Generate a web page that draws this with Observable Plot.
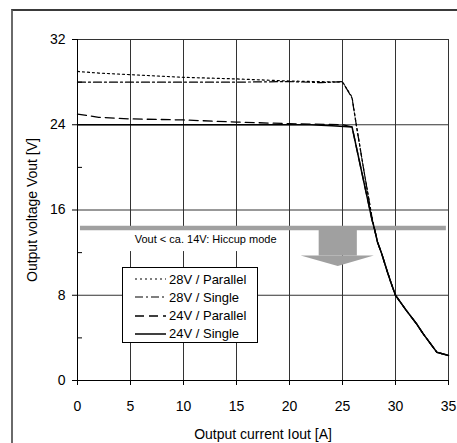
<!DOCTYPE html>
<html><head><meta charset="utf-8">
<script src="https://cdn.jsdelivr.net/npm/d3@7"></script>
<script src="https://cdn.jsdelivr.net/npm/@observablehq/plot@0.6"></script>
<style>
body{margin:0;background:#fff;}
#wrap{position:relative;width:457px;height:443px;overflow:hidden;font-family:"Liberation Sans",Arial,sans-serif;}
#frame{position:absolute;left:11px;top:9px;width:470px;height:470px;border-left:2px solid #6a6a6a;border-top:2px solid #3a3a3a;box-sizing:border-box;}
#legend{position:absolute;left:122px;top:267px;width:136px;height:76px;border:1px solid #000;background:#fff;box-sizing:border-box;font-size:13px;color:#000;}
#legend .row{position:absolute;left:12px;height:18px;display:flex;align-items:center;}
#legend svg{display:block;margin-right:3px;}
</style></head>
<body>
<div id="wrap"><div id="frame"></div><div id="chart"></div><div id="legend"></div></div>
<script>
// ---- data ----
const xTicks = [0, 5, 10, 15, 20, 25, 30, 35];
const yTicks = [0, 8, 16, 24, 32];
const yMinorTicks = [4, 12, 20, 28];
const seriesNames = ["28V / Parallel", "28V / Single", "24V / Parallel", "24V / Single"];

const current28VParallel = [0, 2, 5, 10, 15, 20, 25, 25.9, 26.3, 27, 27.8, 28, 28.3, 28.7, 29.2, 29.6, 30, 31, 32, 32.6, 33.9, 35];
const voltage28VParallel = [29.0, 28.85, 28.7, 28.45, 28.3, 28.1, 28.0, 26.6, 24.0, 19.8, 15.2, 14.3, 13.0, 11.9, 10.3, 9.1, 8.0, 6.6, 5.3, 4.4, 2.65, 2.35];

const current28VSingle = [0, 5, 10, 15, 20, 23, 25, 25.9, 26.3, 27, 27.8, 28, 28.3, 28.7, 29.2, 29.6, 30, 31, 32, 32.6, 33.9, 35];
const voltage28VSingle = [28.0, 28.0, 28.0, 28.0, 28.05, 27.95, 28.05, 26.5, 24.0, 19.8, 15.2, 14.3, 13.0, 11.9, 10.3, 9.1, 8.0, 6.6, 5.3, 4.4, 2.65, 2.35];

const current24VParallel = [0, 2, 5, 10, 15, 20, 25, 25.9, 27, 27.8, 28, 28.3, 28.7, 29.2, 29.6, 30, 31, 32, 32.6, 33.9, 35];
const voltage24VParallel = [25.0, 24.7, 24.55, 24.45, 24.25, 24.1, 24.0, 23.8, 18.7, 15.0, 14.3, 13.0, 11.9, 10.3, 9.1, 8.0, 6.6, 5.3, 4.4, 2.65, 2.35];

const current24VSingle = [0, 5, 10, 15, 20, 22, 24, 25.9, 27, 27.8, 28, 28.3, 28.7, 29.2, 29.6, 30, 31, 32, 32.6, 33.9, 35];
const voltage24VSingle = [24.0, 24.0, 24.0, 24.0, 24.0, 24.0, 23.9, 23.8, 18.7, 15.0, 14.3, 13.0, 11.9, 10.3, 9.1, 8.0, 6.6, 5.3, 4.4, 2.65, 2.35];

// hiccup annotation (data units)
const hiccupLevel = [14.3];
const hiccupText = ["Vout < ca. 14V: Hiccup mode"];

// ---- build ----
const seriesData = [
  [current28VParallel, voltage28VParallel],
  [current28VSingle, voltage28VSingle],
  [current24VParallel, voltage24VParallel],
  [current24VSingle, voltage24VSingle]
].map(([cs, vs], i) => cs.map((c, j) => ({series: seriesNames[i], current: c, voltage: vs[j]})));

const dashes = ["2,3", "8,3,2,3", "9,5", null];
const widths = [1.2, 1.2, 1.3, 1.5];

const gridColor = "#333";
const bandColor = "#a0a0a0";

const lineMarks = seriesData.map((d, i) => Plot.line(d, {
  x: "current", y: "voltage", stroke: "#000", strokeWidth: widths[i],
  strokeDasharray: dashes[i] || undefined
}));

const chart = Plot.plot({
  width: 457, height: 443,
  marginLeft: 77, marginRight: 9, marginTop: 39, marginBottom: 63,
  x: {domain: [0, 35]},
  y: {domain: [0, 32]},
  style: {fontFamily: "'Liberation Sans', Arial, sans-serif", fontSize: "14px", background: "transparent", color: "#000"},
  marks: [
    Plot.gridX(xTicks.slice(1), {stroke: gridColor, strokeOpacity: 1, strokeWidth: 1}),
    Plot.gridY(yTicks.slice(1), {stroke: gridColor, strokeOpacity: 1, strokeWidth: 1}),
    Plot.rect(hiccupText, {x1: 4.6, x2: 19.4, y1: 12.1, y2: hiccupLevel[0] - 0.2, fill: "#fff"}),
    Plot.ruleY(hiccupLevel, {x1: 0.28, x2: 34.8, stroke: bandColor, strokeWidth: 4.5}),
    Plot.text(hiccupText, {x: 5.4, y: 13.2, text: d => d, textAnchor: "start", fontSize: 11, fill: "#000"}),
    Plot.rect(hiccupText, {x1: 22.8, x2: 26.4, y1: 11.68, y2: hiccupLevel[0] - 0.2, fill: bandColor}),
    Plot.areaY([{c: 21.1, lo: 11.68, hi: 11.68}, {c: 24.6, lo: 10.69, hi: 11.68}, {c: 28.0, lo: 11.68, hi: 11.68}],
      {x: "c", y1: "lo", y2: "hi", fill: bandColor, curve: "linear"}),
    ...lineMarks,
    Plot.axisX({ticks: xTicks, tickSize: 5, tickPadding: 16, fontSize: 14,
      label: "Output current Iout [A]", labelAnchor: "center", labelOffset: 58, labelArrow: "none"}),
    Plot.axisY({ticks: yTicks, tickSize: 5, tickPadding: 7, fontSize: 14,
      label: "Output voltage Vout [V]", labelAnchor: "center", labelOffset: 50, labelArrow: "none"}),
    Plot.axisY({ticks: yMinorTicks, tickSize: -5, tickFormat: () => "", label: null}),
    Plot.ruleX([0], {stroke: "#000"}),
    Plot.ruleY([0], {stroke: "#000"})
  ]
});
document.getElementById("chart").appendChild(chart);

// legend (inside plot area, drawn as overlay)
const legend = document.getElementById("legend");
seriesNames.forEach((name, i) => {
  const row = document.createElement("div");
  row.className = "row";
  row.style.top = (2 + i * 18.3) + "px";
  const ns = "http://www.w3.org/2000/svg";
  const s = document.createElementNS(ns, "svg");
  s.setAttribute("width", 31); s.setAttribute("height", 6);
  const l = document.createElementNS(ns, "line");
  l.setAttribute("x1", 0); l.setAttribute("x2", 31); l.setAttribute("y1", 3); l.setAttribute("y2", 3);
  l.setAttribute("stroke", "#000"); l.setAttribute("stroke-width", widths[i]);
  if (dashes[i]) l.setAttribute("stroke-dasharray", dashes[i]);
  s.appendChild(l);
  row.appendChild(s);
  const t = document.createElement("span");
  t.textContent = name;
  row.appendChild(t);
  legend.appendChild(row);
});
</script>
</body></html>
